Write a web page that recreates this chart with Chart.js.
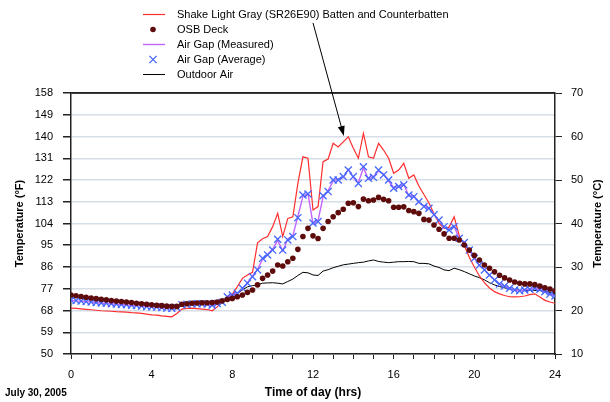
<!DOCTYPE html>
<html>
<head>
<meta charset="utf-8">
<script src="https://cdn.jsdelivr.net/npm/chart.js@4.4.1/dist/chart.umd.min.js"></script>
<style>
  html, body { margin: 0; padding: 0; background: #fff; }
</style>
</head>
<body>
<canvas id="tempChart" width="610" height="402"></canvas>
<script>
// time of day, every 15 minutes
const hours = [
  0, 0.25, 0.5, 0.75, 1, 1.25, 1.5, 1.75, 2, 2.25, 2.5, 2.75,
  3, 3.25, 3.5, 3.75, 4, 4.25, 4.5, 4.75, 5, 5.25, 5.5, 5.75,
  6, 6.25, 6.5, 6.75, 7, 7.25, 7.5, 7.75, 8, 8.25, 8.5, 8.75,
  9, 9.25, 9.5, 9.75, 10, 10.25, 10.5, 10.75, 11, 11.25, 11.5, 11.75,
  12, 12.25, 12.5, 12.75, 13, 13.25, 13.5, 13.75, 14, 14.25, 14.5, 14.75,
  15, 15.25, 15.5, 15.75, 16, 16.25, 16.5, 16.75, 17, 17.25, 17.5, 17.75,
  18, 18.25, 18.5, 18.75, 19, 19.25, 19.5, 19.75, 20, 20.25, 20.5, 20.75,
  21, 21.25, 21.5, 21.75, 22, 22.25, 22.5, 22.75, 23, 23.25, 23.5, 23.75, 24
];

// temperatures in °F
const shakeTemp = [
  69.0, 68.9, 68.7, 68.5, 68.3, 68.1, 67.9, 67.8, 67.7, 67.5, 67.4, 67.3,
  67.1, 67.0, 66.8, 66.5, 66.2, 66.1, 65.8, 65.6, 65.4, 66.8, 68.6, 68.9,
  69.0, 68.8, 68.6, 68.4, 67.9, 69.5, 71.8, 73.5, 74.8, 77.9, 81.3, 82.7,
  83.8, 96.0, 97.7, 98.6, 102.7, 108.2, 98.6, 106.1, 106.8, 120.6, 131.6, 131.0,
  109.6, 111.0, 129.6, 130.7, 137.2, 135.7, 137.8, 139.9, 135.1, 131.0, 141.3, 131.6,
  131.0, 137.2, 134.4, 131.0, 124.8, 126.1, 128.9, 122.7, 124.1, 119.5, 116.0, 112.5,
  108.0, 104.0, 102.0, 102.5, 106.8, 99.0, 95.0, 90.0, 86.0, 82.3, 79.5, 77.3,
  75.8, 74.9, 74.2, 73.7, 73.6, 73.7, 74.0, 74.6, 74.9, 73.6, 72.2, 71.5, 71.0
];

const osbTemp = [
  74.4, 74.1, 73.8, 73.5, 73.2, 72.9, 72.6, 72.4, 72.1, 71.9, 71.7, 71.5,
  71.3, 71.0, 70.8, 70.6, 70.4, 70.2, 70.0, 69.8, 69.7, 69.7, 70.6, 70.8,
  71.0, 71.1, 71.2, 71.2, 71.3, 71.5, 72.0, 72.6, 73.0, 73.7, 74.4, 75.5,
  76.5, 78.6, 81.3, 82.7, 84.3, 86.8, 86.4, 88.2, 89.6, 93.3, 98.6, 102.0,
  98.9, 97.8, 102.0, 104.8, 106.8, 108.5, 109.9, 112.4, 112.6, 111.0, 114.1, 113.4,
  113.7, 114.8, 114.0, 113.4, 110.7, 110.7, 110.9, 109.4, 108.9, 108.2, 105.7, 105.4,
  103.4, 101.6, 99.7, 97.9, 97.9, 97.2, 95.1, 93.0, 90.8, 88.9, 86.8, 85.5,
  84.0, 82.6, 81.5, 80.6, 79.8, 79.3, 79.0, 79.0, 78.7, 78.1, 77.4, 76.9, 76.2
];

const airGapMeasured = [
  72.2, 72.0, 71.9, 71.6, 71.5, 71.3, 71.0, 71.0, 70.8, 70.6, 70.5, 70.3,
  70.2, 70.0, 69.9, 69.7, 69.5, 69.3, 69.2, 69.0, 68.8, 69.3, 70.4, 70.5,
  70.7, 70.8, 70.7, 70.7, 70.1, 71.0, 71.5, 73.6, 74.5, 75.2, 77.0, 79.5,
  82.3, 85.0, 89.2, 91.3, 93.4, 97.0, 92.6, 97.6, 99.0, 107.0, 115.2, 116.5,
  103.8, 105.2, 115.0, 117.6, 121.6, 122.4, 123.0, 126.4, 123.0, 121.0, 127.0, 122.3,
  123.5, 125.7, 124.5, 121.6, 118.9, 119.0, 120.3, 115.4, 115.5, 112.7, 111.3, 110.0,
  107.9, 105.1, 102.4, 101.6, 103.0, 97.6, 96.4, 92.7, 89.9, 86.5, 85.0, 82.5,
  80.8, 78.8, 78.2, 77.0, 76.6, 76.1, 76.6, 76.7, 77.3, 76.6, 75.9, 74.6, 74.1
];

const airGapAverage = [
  72.3, 72.1, 71.9, 71.7, 71.5, 71.3, 71.1, 71.0, 70.8, 70.7, 70.5, 70.4,
  70.2, 70.1, 69.9, 69.7, 69.5, 69.4, 69.2, 69.0, 68.9, 69.2, 70.4, 70.6,
  70.7, 70.8, 70.8, 70.7, 70.2, 70.9, 71.4, 73.7, 74.4, 75.1, 77.2, 79.3,
  82.0, 84.8, 89.6, 91.0, 93.0, 97.5, 93.0, 97.2, 98.6, 106.4, 115.8, 116.2,
  104.2, 104.8, 115.5, 117.2, 122.0, 122.0, 123.4, 126.1, 123.4, 120.6, 127.5, 122.7,
  123.1, 126.1, 124.1, 122.0, 118.6, 119.3, 120.0, 115.8, 115.1, 113.0, 111.0, 110.3,
  107.6, 105.4, 102.7, 101.3, 102.7, 97.9, 96.1, 93.0, 89.6, 86.8, 84.8, 82.7,
  80.6, 79.0, 78.1, 77.2, 76.5, 76.2, 76.5, 76.8, 77.2, 76.8, 75.8, 74.8, 74.0
];

const outdoorTemp = [
  74.4, 74.1, 73.8, 73.5, 73.2, 72.9, 72.6, 72.4, 72.1, 71.9, 71.7, 71.5,
  71.3, 71.0, 70.8, 70.6, 70.4, 70.2, 70.0, 69.8, 69.7, 69.7, 70.6, 70.8,
  71.0, 71.1, 71.2, 71.2, 71.3, 71.5, 72.0, 73.5, 74.4, 75.0, 76.5, 77.8,
  78.3, 78.6, 79.3, 79.4, 79.5, 79.3, 79.0, 80.0, 81.0, 82.5, 83.8, 83.6,
  82.7, 82.5, 84.3, 84.9, 85.7, 86.3, 86.9, 87.2, 87.5, 87.8, 88.0, 88.5,
  88.9, 88.3, 88.0, 87.8, 88.0, 88.2, 88.2, 88.3, 88.2, 87.5, 87.5, 87.3,
  86.4, 85.8, 84.8, 84.5, 85.5, 84.9, 84.1, 83.2, 82.3, 81.6, 80.7, 79.5,
  78.6, 77.9, 77.4, 76.9, 76.6, 76.3, 76.2, 76.3, 76.3, 76.2, 76.0, 75.5, 74.8
];

const seriesNames = [
  "Shake Light Gray (SR26E90) Batten and Counterbatten",
  "OSB Deck",
  "Air Gap (Measured)",
  "Air Gap (Average)",
  "Outdoor Air"
];

const pairs = (vals) => hours.map((h, i) => ({ x: h, y: vals[i] }));

Chart.defaults.font.family = "'Liberation Sans', Arial, sans-serif";
Chart.defaults.color = "#000";

// legend, arrow, border and extra labels
const decor = {
  id: "decor",
  afterDraw(chart) {
    const { ctx, chartArea, scales } = chart;
    const ds = chart.data.datasets;
    ctx.save();

    // top border
    ctx.strokeStyle = "#222";
    ctx.lineWidth = 1.5;
    ctx.beginPath();
    ctx.moveTo(chartArea.left, chartArea.top);
    ctx.lineTo(chartArea.right, chartArea.top);
    ctx.stroke();

    // legend
    ctx.font = "11px 'Liberation Sans', Arial, sans-serif";
    ctx.textBaseline = "middle";
    ds.forEach((d, i) => {
      const y = 14.5 + i * 15;
      if (d.showLine === false) {
        ctx.fillStyle = d.pointBackgroundColor;
        ctx.strokeStyle = d.pointBorderColor;
        ctx.lineWidth = d.borderWidth;
        ctx.beginPath();
        if (d.pointStyle === "circle") {
          ctx.arc(153, y, d.pointRadius, 0, Math.PI * 2);
          ctx.fill();
        } else {
          const r = d.pointRadius * 0.72;
          ctx.moveTo(153 - r, y - r); ctx.lineTo(153 + r, y + r);
          ctx.moveTo(153 - r, y + r); ctx.lineTo(153 + r, y - r);
          ctx.stroke();
        }
      } else {
        ctx.strokeStyle = d.borderColor;
        ctx.lineWidth = d.borderWidth;
        ctx.beginPath();
        ctx.moveTo(143, y);
        ctx.lineTo(165, y);
        ctx.stroke();
      }
      ctx.fillStyle = "#000";
      ctx.fillText(d.label, 177, y);
    });

    // arrow to the peak
    const x0 = scales.x.getPixelForValue(12.0), y0 = scales.y.getPixelForValue(187);
    const x1 = scales.x.getPixelForValue(13.53), y1 = scales.y.getPixelForValue(140.2);
    const ang = Math.atan2(y1 - y0, x1 - x0);
    ctx.strokeStyle = "#000";
    ctx.fillStyle = "#000";
    ctx.lineWidth = 1;
    ctx.beginPath();
    ctx.moveTo(x0, y0);
    ctx.lineTo(x1 - 8 * Math.cos(ang), y1 - 8 * Math.sin(ang));
    ctx.stroke();
    ctx.beginPath();
    ctx.moveTo(x1, y1);
    ctx.lineTo(x1 - 10 * Math.cos(ang) + 3.5 * Math.sin(ang), y1 - 10 * Math.sin(ang) - 3.5 * Math.cos(ang));
    ctx.lineTo(x1 - 10 * Math.cos(ang) - 3.5 * Math.sin(ang), y1 - 10 * Math.sin(ang) + 3.5 * Math.cos(ang));
    ctx.closePath();
    ctx.fill();

    // right axis title
    ctx.font = "bold 11px 'Liberation Sans', Arial, sans-serif";
    ctx.textAlign = "center";
    ctx.translate(598, (chartArea.top + chartArea.bottom) / 2);
    ctx.rotate(-Math.PI / 2);
    ctx.fillText("Temperature (°C)", 0, 0);
    ctx.setTransform(1, 0, 0, 1, 0, 0);

    // date
    ctx.font = "bold 10px 'Liberation Sans', Arial, sans-serif";
    ctx.textAlign = "left";
    ctx.fillText("July 30, 2005", 5, 393);
    ctx.restore();
  }
};

const ctx = document.getElementById("tempChart").getContext("2d");
const tempChart = new Chart(ctx, {
  type: "line",
  data: {
    datasets: [
      {
        label: seriesNames[0],
        data: pairs(shakeTemp),
        borderColor: "#ff2e2e",
        borderWidth: 1.2,
        pointRadius: 0,
        order: 3
      },
      {
        label: seriesNames[1],
        data: pairs(osbTemp),
        showLine: false,
        pointStyle: "circle",
        pointRadius: 2.8,
        pointBackgroundColor: "#5e0b0b",
        pointBorderColor: "#5e0b0b",
        borderWidth: 0,
        order: 0
      },
      {
        label: seriesNames[2],
        data: pairs(airGapMeasured),
        borderColor: "#c266ff",
        borderWidth: 1.4,
        pointRadius: 0,
        order: 2
      },
      {
        label: seriesNames[3],
        data: pairs(airGapAverage),
        showLine: false,
        pointStyle: "crossRot",
        pointRadius: 5,
        pointBackgroundColor: "#4466ff",
        pointBorderColor: "#4466ff",
        borderWidth: 1.3,
        order: 1
      },
      {
        label: seriesNames[4],
        data: pairs(outdoorTemp),
        borderColor: "#000",
        borderWidth: 1,
        pointRadius: 0,
        order: 4
      }
    ]
  },
  options: {
    responsive: false,
    animation: false,
    layout: { padding: { top: 93 } },
    plugins: {
      legend: { display: false },
      tooltip: { enabled: false }
    },
    scales: {
      x: {
        type: "linear",
        min: 0,
        max: 24,
        ticks: {
          stepSize: 1,
          autoSkip: false,
          maxRotation: 0,
          padding: 9,
          font: { size: 11 },
          callback: (v) => (v % 4 === 0 ? v : "")
        },
        grid: { drawOnChartArea: false, tickLength: 5, color: "#222" },
        border: { color: "#222", width: 1.5 },
        title: {
          display: true,
          text: "Time of day (hrs)",
          font: { size: 12, weight: "bold" },
          padding: { top: 0, bottom: 2 }
        },
        afterFit: (s) => { s.height = 48; }
      },
      y: {
        position: "left",
        min: 50,
        max: 158,
        ticks: { stepSize: 9, padding: 10, font: { size: 11 } },
        grid: {
          color: (c) => (c.tick && c.tick.value === 158 ? "#222" : "#d6dee6"),
          lineWidth: 1.5,
          tickColor: "#222",
          tickLength: 8
        },
        border: { color: "#222", width: 1.5 },
        title: {
          display: true,
          text: "Temperature (°F)",
          font: { size: 11, weight: "bold" },
          padding: { top: 13, bottom: 0 }
        },
        afterFit: (s) => { s.width = 71; }
      },
      y2: {
        position: "right",
        min: 10,
        max: 70,
        ticks: { stepSize: 10, padding: 9, font: { size: 11 } },
        grid: { drawOnChartArea: false, tickLength: 7, color: "#222" },
        border: { color: "#222", width: 1.5 },
        afterFit: (s) => { s.width = 55; }
      }
    }
  },
  plugins: [decor]
});
</script>
</body>
</html>
